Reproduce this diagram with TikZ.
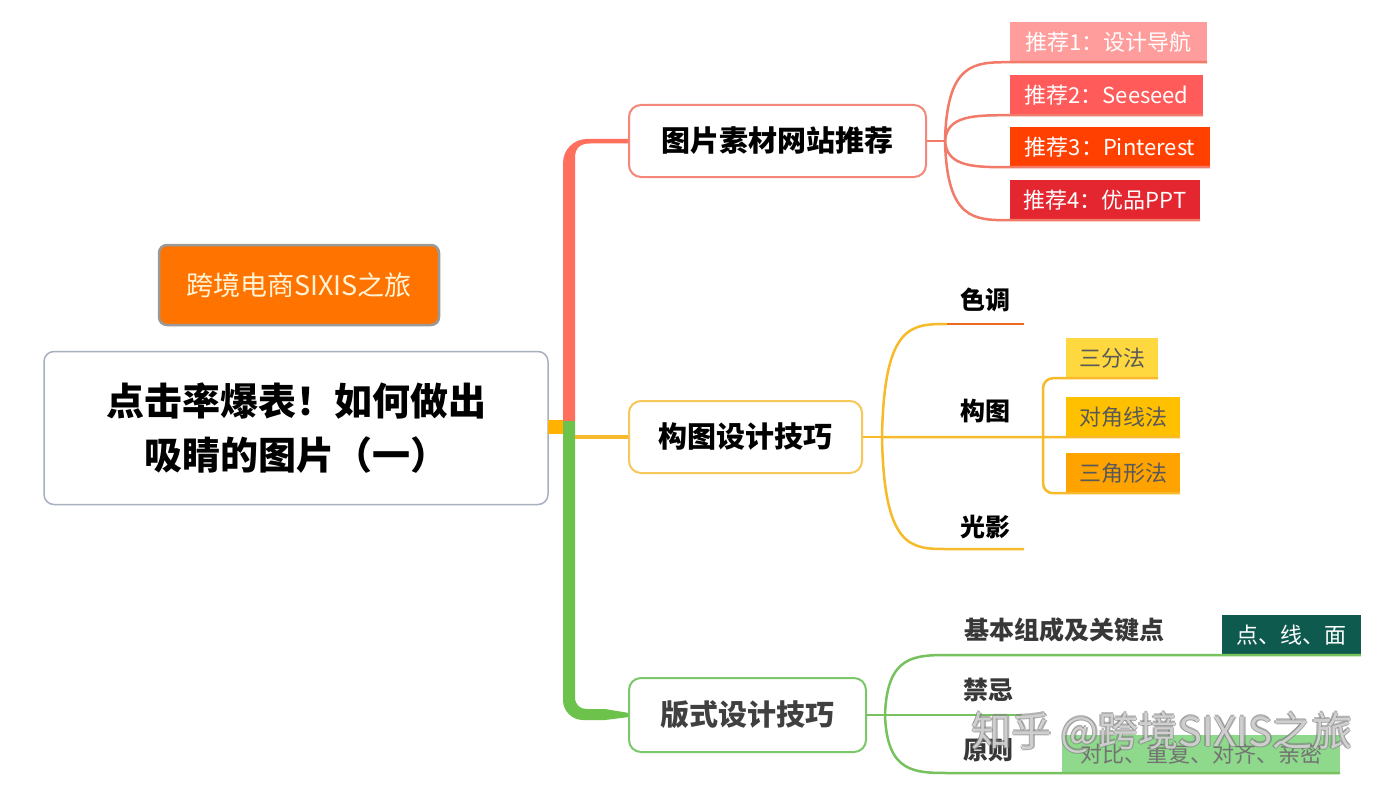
\documentclass[tikz,border=0pt]{standalone}
\usepackage{fontspec}
\setmainfont{Noto Sans CJK SC}
\usetikzlibrary{calc}
\definecolor{trunkred}{HTML}{FF6F5E}
\definecolor{redline}{HTML}{F27A68}
\definecolor{redborder}{HTML}{F4877A}
\definecolor{rA}{HTML}{FF9C9C}
\definecolor{rB}{HTML}{FF5B5B}
\definecolor{rC}{HTML}{FF4000}
\definecolor{rD}{HTML}{E32630}
\definecolor{orline}{HTML}{F7BA2A}
\definecolor{orborder}{HTML}{F7C75A}
\definecolor{orsq}{HTML}{FFB300}
\definecolor{tone}{HTML}{F06A1E}
\definecolor{yA}{HTML}{FFD840}
\definecolor{yB}{HTML}{FFC000}
\definecolor{yC}{HTML}{FFA300}
\definecolor{trunkgreen}{HTML}{6CC24A}
\definecolor{grline}{HTML}{77C25E}
\definecolor{grborder}{HTML}{7CC76A}
\definecolor{teal}{HTML}{0E5A4F}
\definecolor{lgreen}{HTML}{8ED98B}
\definecolor{tagfill}{HTML}{FF7400}
\definecolor{tagtext}{HTML}{FFF3D6}
\definecolor{mainborder}{HTML}{A8AFBF}
\newcommand\wmtxt{知乎 @跨境SIXIS之旅}
\newcommand\wmoutline{\rlap{\hspace{1.5pt}\textcolor{gray}{\wmtxt}}\rlap{\hspace{-1.5pt}\textcolor{gray}{\wmtxt}}\rlap{\raisebox{1.5pt}{\textcolor{gray}{\wmtxt}}}\rlap{\raisebox{-1.5pt}{\textcolor{gray}{\wmtxt}}}\textcolor{white}{\wmtxt}}
\begin{document}
\begin{tikzpicture}[x=1pt,y=-1pt,
  topic/.style={draw, rounded corners=12pt, fill=white, line width=2pt, inner sep=0pt,
    font=\bfseries\fontsize{29}{34}\selectfont},
  subbox/.style={inner sep=0pt, minimum height=40pt, font=\fontsize{22}{26}\selectfont},
  lbl/.style={inner sep=0pt, font=\bfseries\fontsize{25}{30}\selectfont},
  conn/.style={line width=2.5pt},
  wm/.style={inner sep=0pt, font=\fontsize{40}{46}\selectfont}]
\useasboundingbox[fill=white] (0,0) rectangle (1395,789);

% tag and title
\node[draw=gray!80, line width=2.5pt, fill=tagfill, rounded corners=8pt, minimum width=280pt, minimum height=80pt,
  text=tagtext, font=\fontsize{27}{32}\selectfont, inner sep=0pt] (tag) at (299,285) {跨境电商SIXIS之旅};
\node[draw=mainborder, line width=1.5pt, fill=white, rounded corners=10pt, minimum width=504pt, minimum height=153pt,
  align=center, inner sep=0pt, font=\bfseries\fontsize{38}{54}\selectfont] (title) at (296,428) {点击率爆表！如何做出\\吸睛的图片（一）};

% trunk
\fill[orsq] (548,420) rectangle (569,434);
\fill[trunkred] (563,421) -- (563,163) arc[start angle=180,end angle=270,radius=24] -- (629,139) -- (629,143.5)
  -- (590,143.5) .. controls (580,143.5) and (575,148) .. (575,158) -- (575,421) -- cycle;
\fill[trunkgreen] (563,421) -- (563,700) arc[start angle=180,end angle=90,radius=20] -- (605,720) -- (629,717)
  -- (629,713) -- (605,709) -- (587,709) .. controls (580,709) and (575,705) .. (575,697) -- (575,421) -- cycle;

% main topics
\node[topic, draw=redborder, minimum width=297pt, minimum height=72pt] (b1) at (777.5,141) {图片素材网站推荐};
\node[topic, draw=orborder, minimum width=233pt, minimum height=72pt] (b2) at (745.5,437) {构图设计技巧};
\node[topic, draw=grborder, minimum width=237pt, minimum height=74pt, text=black!75] (b3) at (747.5,715) {版式设计技巧};

\coordinate (tj) at (575,437);
\draw[orline, line width=4pt] (tj) -- (b2.west);

% branch 1
\node[subbox, fill=rA, text=white, minimum width=197pt] (r1) at (1108.5,42) {推荐1：设计导航};
\node[subbox, fill=rB, text=white, minimum width=193pt] (r2) at (1106.5,95) {推荐2：Seeseed};
\node[subbox, fill=rC, text=white, minimum width=200pt] (r3) at (1110,147) {推荐3：Pinterest};
\node[subbox, fill=rD, text=white, minimum width=190pt] (r4) at (1105,200) {推荐4：优品PPT};
\coordinate (j1) at (945,141);
\draw[conn, redline] (b1.east) -- (j1);
\foreach \r in {r1,r2,r3,r4}{
  \draw[conn, redline] (j1) .. controls ($(j1|-\r.south west)+(2,0)$) and ($(j1|-\r.south west)!0.45!(\r.south west)$) .. (\r.south west) -- (\r.south east);
}

% branch 2
\node[lbl] (l1) at (985,300) {色调};
\node[lbl] (l2) at (985,411) {构图};
\node[lbl] (l3) at (985,527) {光影};
\node[subbox, fill=yA, text=black!65, minimum width=92pt] (s1) at (1112,358) {三分法};
\node[subbox, fill=yB, text=black!65, minimum width=114pt] (s2) at (1123,417) {对角线法};
\node[subbox, fill=yC, text=black!65, minimum width=114pt] (s3) at (1123,473) {三角形法};
\coordinate (j2) at (882,437);
\coordinate (e1) at (947,324);
\coordinate (u1) at (1024,324);
\coordinate (e3) at (947,549);
\coordinate (u3) at (1024,549);
\coordinate (br) at (1043,437);
\draw[conn, orline] (b2.east) -- (j2);
\draw[conn, orline] (j2) .. controls ($(j2|-e1)+(2,0)$) and ($(j2|-e1)!0.45!(e1)$) .. (e1);
\draw[conn, tone] (e1) -- (u1);
\draw[conn, orline] (j2) .. controls ($(j2|-e3)+(2,0)$) and ($(j2|-e3)!0.45!(e3)$) .. (e3) -- (u3);
\draw[conn, orline] (j2) -- (s2.south west) -- (s2.south east);
\draw[conn, orline, rounded corners=10pt] (s1.south east) -- (s1.south west) -| (br) |- (s3.south west) -- (s3.south east);

% branch 3
\node[lbl, text=black!78] (m1) at (1064,630) {基本组成及关键点};
\node[lbl, text=black!78] (m2) at (988,690) {禁忌};
\node[lbl, text=black!78] (m3) at (988,750) {原则};
\node[subbox, fill=teal, text=white, minimum width=139pt] (p) at (1291.5,635) {点、线、面};
\node[subbox, fill=lgreen, text=black!55, minimum width=278pt, minimum height=38pt] (q) at (1201,754) {对比、重复、对齐、亲密};
\coordinate (j3) at (885,715);
\coordinate (e4) at (950,655);
\coordinate (u5) at (1022,715);
\coordinate (e6) at (950,773);
\draw[conn, grline] (b3.east) -- (j3);
\draw[conn, grline] (j3) .. controls ($(j3|-e4)+(2,0)$) and ($(j3|-e4)!0.45!(e4)$) .. (e4) -- (p.south west) -- (p.south east);
\draw[conn, grline] (j3) -- (u5);
\draw[conn, grline] (j3) .. controls ($(j3|-e6)+(2,0)$) and ($(j3|-e6)!0.45!(e6)$) .. (e6) -- (q.south west) -- (q.south east);

% watermark
\node[wm, text opacity=0.6] (wmark) at (1162,733) {\wmoutline};
\end{tikzpicture}
\end{document}
